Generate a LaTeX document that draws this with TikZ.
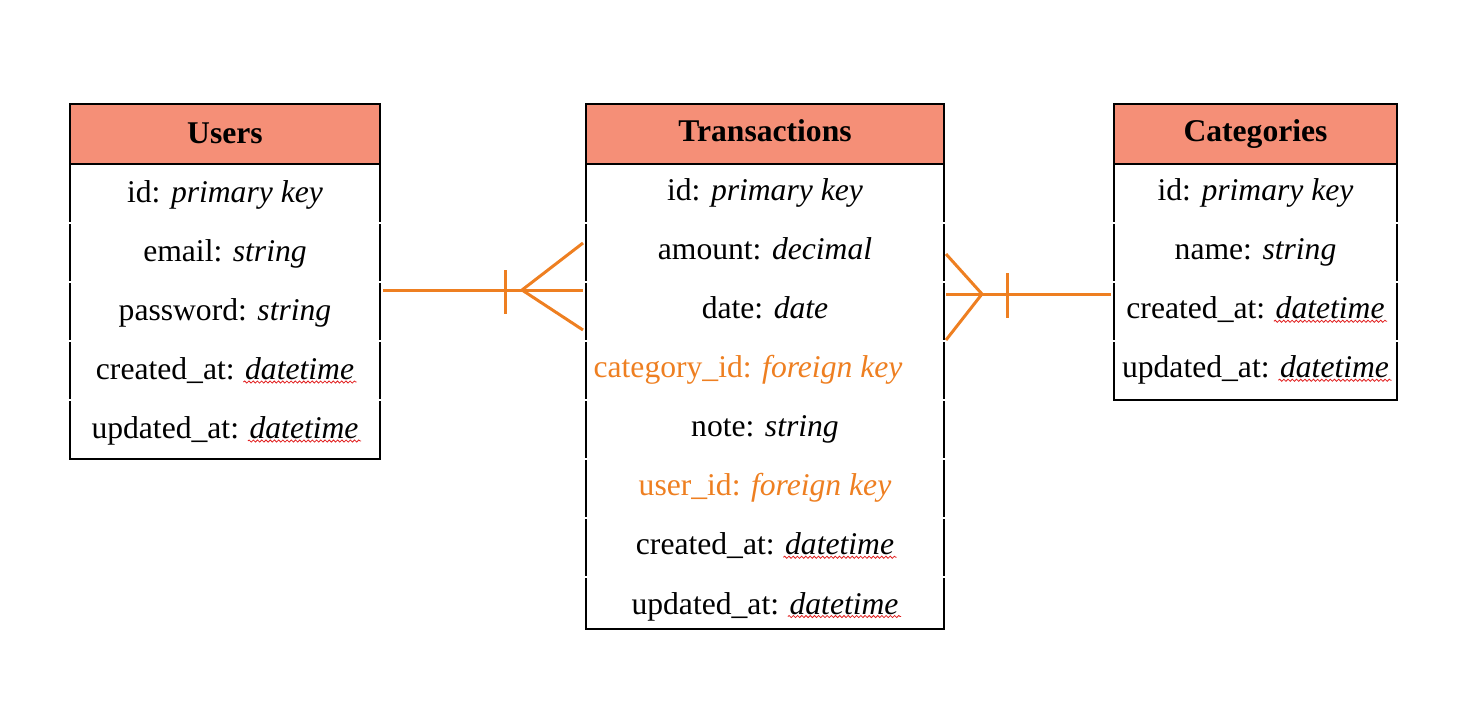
\documentclass[tikz,border=0pt]{standalone}
\usepackage{fontspec}
\setmainfont{Liberation Serif}
\usetikzlibrary{positioning,calc,decorations.pathmorphing}
\definecolor{headfill}{RGB}{245,143,119}
\definecolor{fkorange}{RGB}{238,127,33}
\definecolor{spellred}{RGB}{225,30,30}
\newcommand\px{0.02cm}
% spell-check wave under a word
\newcommand\wavy[1]{\tikz[baseline=(w.base)]{\node[inner sep=0pt,minimum width=0pt,minimum height=0pt,text height=,text depth=] (w) {#1};
  \draw[overlay,spellred,line width=0.45pt,decorate,decoration={snake,amplitude=0.6pt,segment length=2.4pt}] ([xshift=-1pt,yshift=-1.3pt]w.base west) -- ([xshift=1.5pt,yshift=-1.3pt]w.base east);}}

\begin{document}
\begin{tikzpicture}[x=0.02cm,y=-0.02cm,
  every node/.style={inner sep=0pt,outer sep=0pt,font=\fontsize{18pt}{21.6pt}\selectfont},
  head/.style={fill=headfill,draw=black,line width=0.6pt,minimum height=60*\px,font=\fontsize{18pt}{21.6pt}\selectfont\bfseries,text height=1.27em,text depth=0.22em},
  row/.style={minimum height=59*\px,text height=1.27em,text depth=0.22em},
  up/.style={text height=1.07em},
  fk/.style={text=fkorange},
  edge/.style={black,line width=0.6pt},
  rel/.style={fkorange,line width=1.7pt}]
\useasboundingbox (0,0) rectangle (1480,714);

% Users
\node[head,minimum width=310*\px] (users) at (225,134) {Users};
\node[row,minimum width=310*\px,below=0pt of users] (users-1) {id: \textit{primary key}};
\node[row,minimum width=310*\px,below=0pt of users-1] (users-2) {email: \textit{string}};
\node[row,minimum width=310*\px,below=0pt of users-2] (users-3) {password: \textit{string}};
\node[row,minimum width=310*\px,below=0pt of users-3] (users-4) {created\_at: \wavy{\textit{datetime}}};
\node[row,minimum width=310*\px,below=0pt of users-4] (users-5) {updated\_at: \wavy{\textit{datetime}}};
\foreach \r in {1,...,4} {
  \draw[edge] ([yshift=-0.6pt]users-\r.north west) -- ([yshift=0.6pt]users-\r.south west);
  \draw[edge] ([yshift=-0.6pt]users-\r.north east) -- ([yshift=0.6pt]users-\r.south east);
}
\draw[edge] ([yshift=-0.6pt]users-5.north west) -- (users-5.south west) -- (users-5.south east) -- ([yshift=-0.6pt]users-5.north east);

% Transactions
\node[head,minimum width=358*\px,up] (trans) at (765,134) {Transactions};
\node[row,up,minimum width=358*\px,below=0pt of trans] (trans-1) {id: \textit{primary key}};
\node[row,up,minimum width=358*\px,below=0pt of trans-1] (trans-2) {amount: \textit{decimal}};
\node[row,up,minimum width=358*\px,below=0pt of trans-2] (trans-3) {date: \textit{date}};
\node[row,up,fk,minimum width=358*\px,below=0pt of trans-3] (trans-4) {\hspace*{-0.68cm}category\_id: \textit{foreign key}};
\node[row,up,minimum width=358*\px,below=0pt of trans-4] (trans-5) {note: \textit{string}};
\node[row,up,fk,minimum width=358*\px,below=0pt of trans-5] (trans-6) {user\_id: \textit{foreign key}};
\node[row,up,minimum width=358*\px,below=0pt of trans-6] (trans-7) {created\_at: \wavy{\textit{datetime}}};
\node[row,minimum width=358*\px,minimum height=52*\px,text height=1.5em,below=0pt of trans-7] (trans-8) {updated\_at: \wavy{\textit{datetime}}};
\foreach \r in {1,...,7} {
  \draw[edge] ([yshift=-0.6pt]trans-\r.north west) -- ([yshift=0.6pt]trans-\r.south west);
  \draw[edge] ([yshift=-0.6pt]trans-\r.north east) -- ([yshift=0.6pt]trans-\r.south east);
}
\draw[edge] ([yshift=-0.6pt]trans-8.north west) -- (trans-8.south west) -- (trans-8.south east) -- ([yshift=-0.6pt]trans-8.north east);

% Categories
\node[head,minimum width=283*\px,up] (cats) at (1255.5,134) {Categories};
\node[row,up,minimum width=283*\px,below=0pt of cats] (cats-1) {id: \textit{primary key}};
\node[row,up,minimum width=283*\px,below=0pt of cats-1] (cats-2) {name: \textit{string}};
\node[row,up,minimum width=283*\px,below=0pt of cats-2] (cats-3) {created\_at: \wavy{\textit{datetime}}};
\node[row,up,minimum width=283*\px,below=0pt of cats-3] (cats-4) {updated\_at: \wavy{\textit{datetime}}};
\foreach \r in {1,...,3} {
  \draw[edge] ([yshift=-0.6pt]cats-\r.north west) -- ([yshift=0.6pt]cats-\r.south west);
  \draw[edge] ([yshift=-0.6pt]cats-\r.north east) -- ([yshift=0.6pt]cats-\r.south east);
}
\draw[edge] ([yshift=-0.6pt]cats-4.north west) -- (cats-4.south west) -- (cats-4.south east) -- ([yshift=-0.6pt]cats-4.north east);

% users 1 -- n transactions
\coordinate (uf) at ($(users-3.east)+(3,-21.5)$);
\coordinate (tf) at ($(trans-3.west)+(-3,-21.5)$);
\coordinate (tf-apex) at ($(tf)+(-61,0)$);
\coordinate (uf-bar) at ($(tf)+(-78,0)$);
\draw[rel] (uf) -- (tf);
\draw[rel] ($(tf)+(0,-47)$) -- (tf-apex) -- ($(tf)+(0,40)$);
\draw[rel] ($(uf-bar)+(0,-20)$) -- ($(uf-bar)+(0,24)$);

% categories 1 -- n transactions
\coordinate (tc) at ($(trans-3.east)+(2,-17.5)$);
\coordinate (cf) at ($(cats-3.west)+(-3,-17.5)$);
\coordinate (tc-apex) at ($(tc)+(36,0)$);
\coordinate (cf-bar) at ($(tc)+(61,0)$);
\draw[rel] (tc) -- (cf);
\draw[rel] ($(tc)+(0,-40)$) -- (tc-apex) -- ($(tc)+(0,46)$);
\draw[rel] ($(cf-bar)+(0,-21)$) -- ($(cf-bar)+(0,24)$);
\end{tikzpicture}
\end{document}
